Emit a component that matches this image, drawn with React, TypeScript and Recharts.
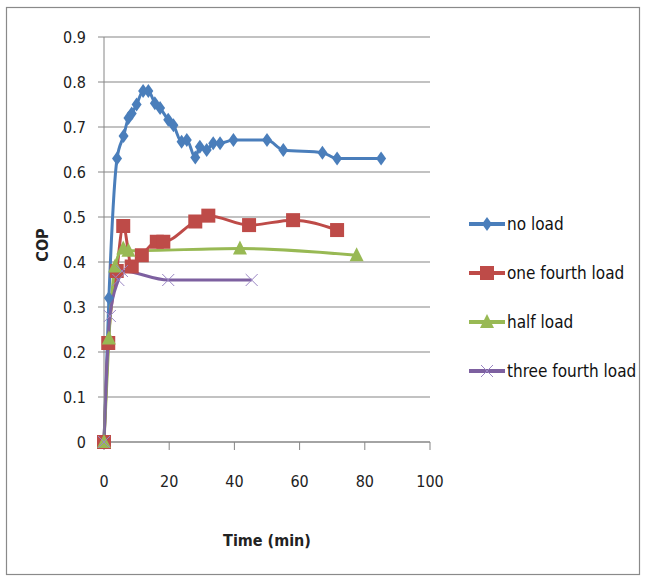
import { LineChart, Line, XAxis, YAxis, CartesianGrid } from 'recharts';

// time (min) / COP
const noLoadTime = [0, 1.5, 4, 6, 7.5, 8.5, 10, 12, 13.6, 15.6, 17.2, 19.7, 21.3, 23.8, 25.4, 28, 29.4, 31.5, 33.5, 35.6, 39.7, 50, 55, 67, 71.5, 85];
const noLoadCop = [0, 0.32, 0.63, 0.68, 0.72, 0.73, 0.75, 0.78, 0.78, 0.753, 0.742, 0.716, 0.704, 0.667, 0.671, 0.632, 0.656, 0.649, 0.664, 0.664, 0.671, 0.671, 0.649, 0.643, 0.63, 0.63];

const quarterTime = [0, 1.3, 3.9, 5.9, 8.5, 11.6, 16.2, 18.2, 28, 32, 44.5, 58, 71.5];
const quarterCop = [0, 0.22, 0.38, 0.48, 0.39, 0.415, 0.445, 0.445, 0.49, 0.503, 0.482, 0.493, 0.471];

const halfTime = [0, 1.5, 3.4, 5.9, 7.5, 41.7, 77.5];
const halfCop = [0, 0.23, 0.39, 0.43, 0.425, 0.43, 0.415];

const threeQuarterTime = [0, 1.8, 4.4, 5.5, 19.7, 45.3];
const threeQuarterCop = [0, 0.28, 0.36, 0.38, 0.36, 0.36];

const xTicks = [0, 20, 40, 60, 80, 100];
const yTicks = [0, 0.1, 0.2, 0.3, 0.4, 0.5, 0.6, 0.7, 0.8, 0.9];

const FONT = '"DejaVu Sans Condensed", "Liberation Sans", sans-serif';

const zip = (t: number[], v: number[]) => t.map((x, i) => ({ t: x, cop: v[i] }));

type Marker = 'diamond' | 'square' | 'triangle' | 'cross';

const series: { name: string; color: string; marker: Marker; data: { t: number; cop: number }[] }[] = [
  { name: 'no load', color: '#4a7ebb', marker: 'diamond', data: zip(noLoadTime, noLoadCop) },
  { name: 'one fourth load', color: '#be4b48', marker: 'square', data: zip(quarterTime, quarterCop) },
  { name: 'half load', color: '#98b954', marker: 'triangle', data: zip(halfTime, halfCop) },
  { name: 'three fourth load', color: '#7d60a0', marker: 'cross', data: zip(threeQuarterTime, threeQuarterCop) },
];

function MarkerShape({ cx, cy, marker, color }: { cx: number; cy: number; marker: Marker; color: string }) {
  if (marker === 'diamond') {
    return <path d={`M${cx},${cy - 7}L${cx + 5},${cy}L${cx},${cy + 7}L${cx - 5},${cy}Z`} fill={color} />;
  }
  if (marker === 'square') {
    return <rect x={cx - 7} y={cy - 7} width={14} height={14} fill={color} />;
  }
  if (marker === 'triangle') {
    return <path d={`M${cx},${cy - 8}L${cx + 7},${cy + 6}L${cx - 7},${cy + 6}Z`} fill={color} />;
  }
  return (
    <g stroke="#9a86c4" strokeWidth={1}>
      <line x1={cx - 6} y1={cy - 6} x2={cx + 6} y2={cy + 6} />
      <line x1={cx - 6} y1={cy + 6} x2={cx + 6} y2={cy - 6} />
    </g>
  );
}

export default function App() {
  return (
    <div style={{ position: 'absolute', left: 0, top: 0, width: 645, height: 581, background: '#fff', fontFamily: FONT }}>
      {/* outer frame */}
      <svg width={645} height={581} style={{ position: 'absolute', left: 0, top: 0 }}>
        <rect x={6.5} y={7.5} width={633} height={567} fill="none" stroke="#8a8a8a" strokeWidth={1.2} />
      </svg>

      <div style={{ position: 'absolute', left: 0, top: 0 }}>
        <LineChart width={645} height={581} data={series[0].data} margin={{ top: 37, right: 215, bottom: 79, left: 0 }}>
          <CartesianGrid horizontal vertical={false} stroke="#868686" strokeWidth={1.2} />
          <XAxis
            type="number"
            dataKey="t"
            domain={[0, 100]}
            ticks={xTicks}
            interval={0}
            height={60}
            stroke="#868686"
            tickSize={8}
            tickMargin={26}
            tick={{ fill: '#222', fontSize: 16, fontFamily: FONT }}
            allowDuplicatedCategory={false}
          />
          <YAxis
            type="number"
            domain={[0, 0.9]}
            ticks={yTicks}
            interval={0}
            width={104}
            stroke="#868686"
            tickSize={6}
            tickMargin={12}
            tick={{ fill: '#222', fontSize: 16, fontFamily: FONT }}
          />
          {series.map((s) => (
            <Line
              key={s.name}
              data={s.data}
              dataKey="cop"
              name={s.name}
              type="monotone"
              stroke={s.color}
              strokeWidth={3}
              isAnimationActive={false}
              dot={(p: any) => (
                <MarkerShape key={`${s.name}-${p.index}`} cx={p.cx} cy={p.cy} marker={s.marker} color={s.color} />
              )}
              activeDot={false}
            />
          ))}
        </LineChart>
      </div>

      {/* axis titles */}
      <div
        style={{
          position: 'absolute',
          left: 42,
          top: 245,
          transform: 'translate(-50%, -50%) rotate(-90deg)',
          fontWeight: 'bold',
          fontSize: 16,
          color: '#222',
        }}
      >
        COP
      </div>
      <div
        style={{
          position: 'absolute',
          left: 267,
          top: 540,
          transform: 'translate(-50%, -50%)',
          fontWeight: 'bold',
          fontSize: 16,
          color: '#222',
          whiteSpace: 'nowrap',
        }}
      >
        Time (min)
      </div>

      {/* legend */}
      <div style={{ position: 'absolute', left: 468, top: 199 }}>
        {series.map((s) => (
          <div key={s.name} style={{ display: 'flex', alignItems: 'center', height: 49 }}>
            <svg width={38} height={20}>
              <line x1={1} y1={10} x2={37} y2={10} stroke={s.color} strokeWidth={4} />
              <MarkerShape cx={19} cy={10} marker={s.marker} color={s.color} />
            </svg>
            <span style={{ fontSize: 17, color: '#111', marginLeft: 1, whiteSpace: 'nowrap' }}>{s.name}</span>
          </div>
        ))}
      </div>
    </div>
  );
}
